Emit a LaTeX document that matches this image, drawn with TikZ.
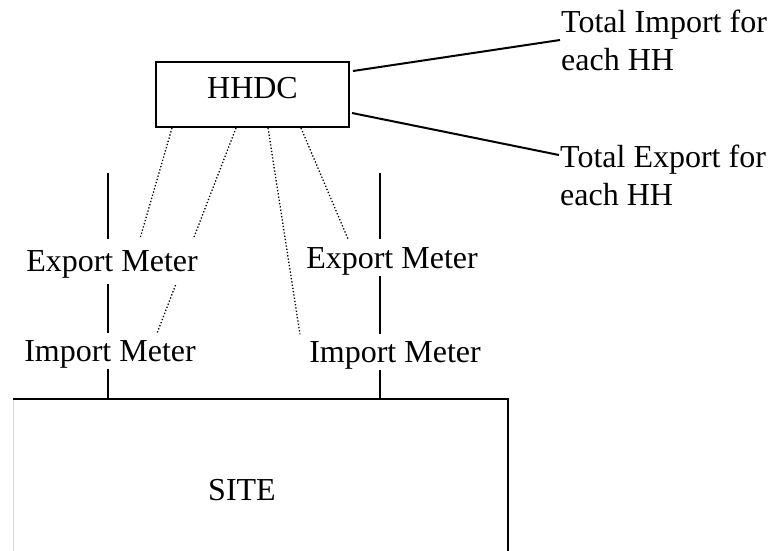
\documentclass[tikz,border=0pt]{standalone}
\usepackage{fontspec}
\setmainfont{Liberation Serif}
\usetikzlibrary{backgrounds}
\begin{document}
\begin{tikzpicture}[x=1pt, y=-1pt,
    every node/.style={font=\fontsize{32}{38}\selectfont},
    device/.style={rectangle, draw, line width=2pt, inner sep=0pt},
    meter/.style={fill=white, text height=21pt, text depth=0pt, inner xsep=2pt},
    note/.style={anchor=west, align=left, inner sep=1pt},
    wire/.style={line width=1.5pt},
    feed/.style={line width=2pt},
    probe/.style={dotted, line width=1.3pt}]
   \useasboundingbox (0,0) rectangle (770,550);

   \node[device, minimum width=193pt, minimum height=65pt, text depth=14pt] (hhdc) at (252.5,94.5) {HHDC};

   \node[meter, inner ysep=12pt] (exl) at (112,261.4) {Export Meter};
   \node[meter, inner ysep=7pt]  (iml) at (110,351)   {Import Meter};
   \node[meter, inner ysep=8pt]  (exr) at (392,257.7) {Export Meter};
   \node[meter, inner ysep=7pt]  (imr) at (395,352)   {Import Meter};

   \node[note] (totimp) at (560,40)  {Total Import for\\each HH};
   \node[note] (totexp) at (559,175) {Total Export for\\each HH};

   \node[minimum width=494.5pt, minimum height=200pt, inner sep=0pt, anchor=north west] (site) at (13,398.5) {};
   \node (sitename) at (242,490) {SITE};

   \coordinate (topl) at (108,173);
   \coordinate (topr) at (380,173);

   \draw[gray!30, line width=1pt] (site.north west) -- (site.south west);
   \draw[feed] (site.north west) -- (site.north east) -- (site.south east);

   \draw[wire] (topl) -- (topl |- exl.north);
   \draw[wire] (topl |- exl.south) -- (topl |- iml.north);
   \draw[wire] (topl |- iml.south) -- (topl |- site.north);
   \draw[wire] (topr) -- (topr |- exr.north);
   \draw[wire] (topr |- exr.south) -- (topr |- imr.north);
   \draw[wire] (topr |- imr.south) -- (topr |- site.north);

   \draw[feed] ([xshift=3pt,yshift=-10pt]hhdc.north east) -- (totimp.west);
   \draw[feed] ([xshift=2pt,yshift=15pt]hhdc.south east) -- ([yshift=20pt]totexp.west);

   \begin{pgfonlayer}{background}
   \draw[probe] ([xshift=-80.5pt]hhdc.south) -- ([xshift=28pt]exl.north);
   \draw[probe] ([xshift=-16.5pt]hhdc.south) -- ([xshift=47pt]iml.north);
   \draw[probe] ([xshift=15.5pt]hhdc.south)  -- ([xshift=-95pt]imr.north);
   \draw[probe] ([xshift=48.5pt]hhdc.south)  -- ([xshift=-44pt]exr.north);
   \end{pgfonlayer}
\end{tikzpicture}
\end{document}
